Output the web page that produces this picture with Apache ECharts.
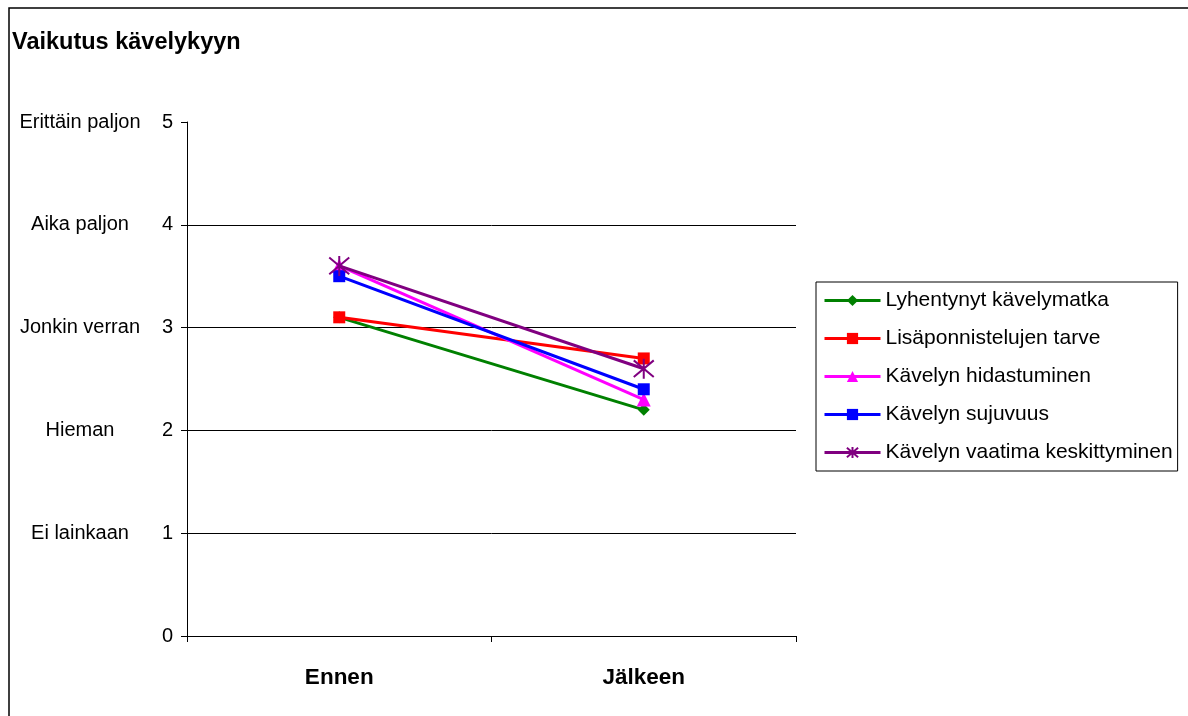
<!DOCTYPE html>
<html>
<head>
<meta charset="utf-8">
<script src="https://cdn.jsdelivr.net/npm/echarts@6/dist/echarts.min.js"></script>
<style>
  html, body { margin: 0; padding: 0; background: #fff; }
  #chart { width: 1188px; height: 716px; }
</style>
</head>
<body>
<div id="chart"></div>
<script>
// Chart data
const categories = ['Ennen', 'Jälkeen'];
const seriesNames = [
  'Lyhentynyt kävelymatka',
  'Lisäponnistelujen tarve',
  'Kävelyn hidastuminen',
  'Kävelyn sujuvuus',
  'Kävelyn vaatima keskittyminen'
];
const lyhentynyt = [3.1, 2.2];
const lisaponnistelut = [3.1, 2.7];
const hidastuminen = [3.6, 2.3];
const sujuvuus = [3.5, 2.4];
const keskittyminen = [3.6, 2.6];
const scaleLabels = ['', 'Ei lainkaan', 'Hieman', 'Jonkin verran', 'Aika paljon', 'Erittäin paljon'];

const FONT = '"Liberation Sans", Arial, sans-serif';
// six-armed asterisk drawn as open strokes
const asterisk = 'path://M0,0 L10,10 M10,0 L0,10 M5,-1 L5,11';

const styles = [
  { color: '#008000', symbol: 'diamond', size: 12 },
  { color: '#FF0000', symbol: 'rect', size: 12 },
  { color: '#FF00FF', symbol: 'triangle', size: 14 },
  { color: '#0000FF', symbol: 'rect', size: 12 },
  { color: '#800080', symbol: asterisk, size: 20 }
];
const values = [lyhentynyt, lisaponnistelut, hidastuminen, sujuvuus, keskittyminen];

const series = seriesNames.map((name, i) => ({
  name: name,
  type: 'line',
  data: values[i],
  symbol: styles[i].symbol,
  symbolSize: styles[i].size,
  showAllSymbol: true,
  lineStyle: { color: styles[i].color, width: 3 },
  itemStyle: i === 4
    ? { color: 'rgba(0,0,0,0)', borderColor: styles[i].color, borderWidth: 2 }
    : { color: styles[i].color },
  emphasis: { disabled: true },
  z: 2 + i
}));

const chart = echarts.init(document.getElementById('chart'), null, { renderer: 'canvas' });
chart.setOption({
  animation: false,
  backgroundColor: '#fff',
  title: {
    text: 'Vaikutus kävelykyyn',
    left: 7,
    top: 26,
    textStyle: { fontFamily: FONT, fontSize: 23.5, fontWeight: 'bold', color: '#000' }
  },
  graphic: [{
    type: 'rect',
    shape: { x: 9, y: 8, width: 1400, height: 1000 },
    style: { fill: 'none', stroke: '#000', lineWidth: 1.5 },
    silent: true,
    z: 100
  }],
  legend: {
    orient: 'vertical',
    left: 816,
    top: 282,
    padding: [8, 5, 8, 7],
    borderColor: '#000',
    borderWidth: 1,
    itemWidth: 56,
    itemHeight: 14,
    itemGap: 17,
    data: seriesNames,
    lineStyle: { width: 3 },
    textStyle: { fontFamily: FONT, fontSize: 21, color: '#000' }
  },
  grid: { left: 187, right: 392, top: 122, bottom: 80, containLabel: false },
  xAxis: {
    type: 'category',
    data: categories,
    boundaryGap: true,
    axisLine: { lineStyle: { color: '#000', width: 1 } },
    axisTick: { show: true, length: 6, lineStyle: { color: '#000' } },
    axisLabel: { margin: 30, fontFamily: FONT, fontSize: 22.5, fontWeight: 'bold', color: '#000' }
  },
  yAxis: [{
    type: 'value',
    min: 0,
    max: 5,
    interval: 1,
    axisLine: { show: true, lineStyle: { color: '#000', width: 1 } },
    axisTick: { show: true, length: 6, lineStyle: { color: '#000' } },
    axisLabel: { margin: 14, fontFamily: FONT, fontSize: 20, color: '#000' },
    splitLine: { show: true, showMaxLine: false, lineStyle: { color: '#000', width: 1 } }
  }, {
    type: 'value',
    position: 'left',
    min: 0,
    max: 5,
    interval: 1,
    axisLine: { show: false },
    axisTick: { show: false },
    splitLine: { show: false },
    axisLabel: {
      margin: 107,
      align: 'center',
      fontFamily: FONT,
      fontSize: 20,
      color: '#000',
      formatter: v => scaleLabels[Math.round(v)] || ''
    }
  }],
  series: series
});
</script>
</body>
</html>
